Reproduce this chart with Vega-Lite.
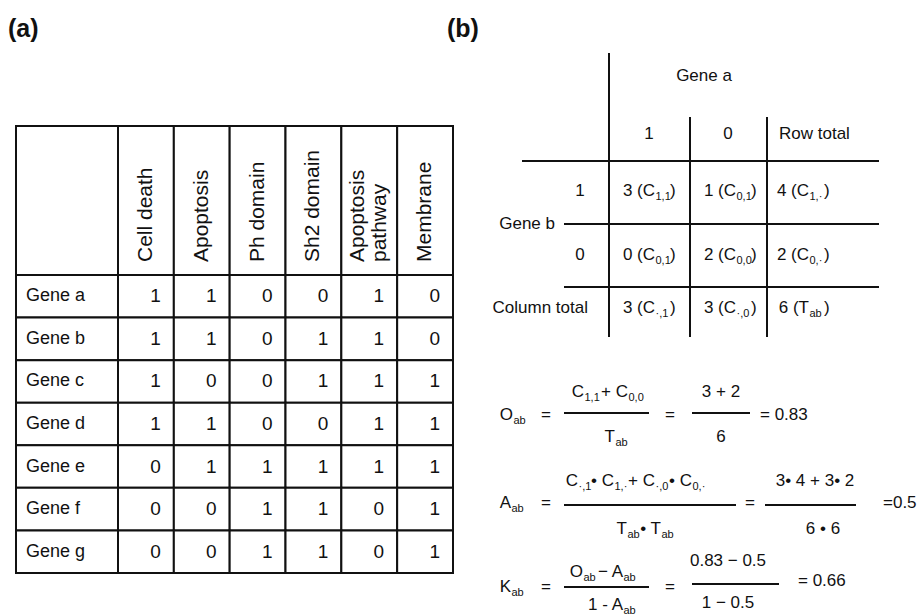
{
  "$schema": "https://vega.github.io/schema/vega-lite/v6.json",
  "width": 920,
  "height": 615,
  "autosize": {"type": "fit", "contains": "padding"},
  "padding": 0,
  "background": "white",
  "config": {
    "view": {"stroke": null},
    "text": {"font": "Liberation Sans, Arial", "color": "#111"}
  },
  "datasets": {
    "matrix": [
      {"gene": "Gene a", "term": "Cell death", "value": 1},
      {"gene": "Gene a", "term": "Apoptosis", "value": 1},
      {"gene": "Gene a", "term": "Ph domain", "value": 0},
      {"gene": "Gene a", "term": "Sh2 domain", "value": 0},
      {"gene": "Gene a", "term": "Apoptosis pathway", "value": 1},
      {"gene": "Gene a", "term": "Membrane", "value": 0},
      {"gene": "Gene b", "term": "Cell death", "value": 1},
      {"gene": "Gene b", "term": "Apoptosis", "value": 1},
      {"gene": "Gene b", "term": "Ph domain", "value": 0},
      {"gene": "Gene b", "term": "Sh2 domain", "value": 1},
      {"gene": "Gene b", "term": "Apoptosis pathway", "value": 1},
      {"gene": "Gene b", "term": "Membrane", "value": 0},
      {"gene": "Gene c", "term": "Cell death", "value": 1},
      {"gene": "Gene c", "term": "Apoptosis", "value": 0},
      {"gene": "Gene c", "term": "Ph domain", "value": 0},
      {"gene": "Gene c", "term": "Sh2 domain", "value": 1},
      {"gene": "Gene c", "term": "Apoptosis pathway", "value": 1},
      {"gene": "Gene c", "term": "Membrane", "value": 1},
      {"gene": "Gene d", "term": "Cell death", "value": 1},
      {"gene": "Gene d", "term": "Apoptosis", "value": 1},
      {"gene": "Gene d", "term": "Ph domain", "value": 0},
      {"gene": "Gene d", "term": "Sh2 domain", "value": 0},
      {"gene": "Gene d", "term": "Apoptosis pathway", "value": 1},
      {"gene": "Gene d", "term": "Membrane", "value": 1},
      {"gene": "Gene e", "term": "Cell death", "value": 0},
      {"gene": "Gene e", "term": "Apoptosis", "value": 1},
      {"gene": "Gene e", "term": "Ph domain", "value": 1},
      {"gene": "Gene e", "term": "Sh2 domain", "value": 1},
      {"gene": "Gene e", "term": "Apoptosis pathway", "value": 1},
      {"gene": "Gene e", "term": "Membrane", "value": 1},
      {"gene": "Gene f", "term": "Cell death", "value": 0},
      {"gene": "Gene f", "term": "Apoptosis", "value": 0},
      {"gene": "Gene f", "term": "Ph domain", "value": 1},
      {"gene": "Gene f", "term": "Sh2 domain", "value": 1},
      {"gene": "Gene f", "term": "Apoptosis pathway", "value": 0},
      {"gene": "Gene f", "term": "Membrane", "value": 1},
      {"gene": "Gene g", "term": "Cell death", "value": 0},
      {"gene": "Gene g", "term": "Apoptosis", "value": 0},
      {"gene": "Gene g", "term": "Ph domain", "value": 1},
      {"gene": "Gene g", "term": "Sh2 domain", "value": 1},
      {"gene": "Gene g", "term": "Apoptosis pathway", "value": 0},
      {"gene": "Gene g", "term": "Membrane", "value": 1}
    ],
    "terms": [
      {"term": "Cell death", "label": "Cell death"},
      {"term": "Apoptosis", "label": "Apoptosis"},
      {"term": "Ph domain", "label": "Ph domain"},
      {"term": "Sh2 domain", "label": "Sh2 domain"},
      {"term": "Apoptosis pathway", "label": "Apoptosis\npathway"},
      {"term": "Membrane", "label": "Membrane"}
    ],
    "genes": [
      {"gene": "Gene a"}, {"gene": "Gene b"}, {"gene": "Gene c"}, {"gene": "Gene d"},
      {"gene": "Gene e"}, {"gene": "Gene f"}, {"gene": "Gene g"}
    ],
    "corner": [{"part": "corner"}],
    "gridLines": [
      {"col": 14, "col2": 14, "row": 1, "row2": 11},
      {"col": 26, "col2": 26, "row": 3, "row2": 11},
      {"col": 35, "col2": 35, "row": 3, "row2": 11},
      {"col": 5, "col2": 42, "row": 5, "row2": 5},
      {"col": 8, "col2": 42, "row": 7, "row2": 7},
      {"col": 8, "col2": 42, "row": 9, "row2": 9},
      {"col": 8, "col2": 21, "row": 13, "row2": 13},
      {"col": 27, "col2": 32, "row": 13, "row2": 13},
      {"col": 8, "col2": 31, "row": 18, "row2": 18},
      {"col": 34, "col2": 41, "row": 18, "row2": 18},
      {"col": 8, "col2": 21, "row": 24, "row2": 24},
      {"col": 27, "col2": 36, "row": 23, "row2": 23}
    ],
    "centerText": [
      {"col": 28, "row": 2, "text": "Gene a"},
      {"col": 21, "row": 4, "text": "1"},
      {"col": 30, "row": 4, "text": "0"},
      {"col": 10, "row": 6, "text": "1"},
      {"col": 10, "row": 8, "text": "0"},
      {"col": 6, "row": 14, "text": "="},
      {"col": 6, "row": 17, "text": "="},
      {"col": 6, "row": 24, "text": "="},
      {"col": 24, "row": 14, "text": "="},
      {"col": 32, "row": 17, "text": "="},
      {"col": 24, "row": 24, "text": "="},
      {"col": 29, "row": 12, "text": "3 + 2"},
      {"col": 29, "row": 15, "text": "6"},
      {"col": 39, "row": 16, "text": "3• 4 + 3• 2"},
      {"col": 40, "row": 19, "text": "6 • 6"},
      {"col": 30, "row": 20, "text": "0.83 − 0.5"},
      {"col": 30, "row": 25, "text": "1 − 0.5"}
    ],
    "leftText": [
      {"col": 36, "row": 4, "text": "Row total"},
      {"col": 33, "row": 14, "text": "= 0.83"},
      {"col": 43, "row": 17, "text": "=0.5"},
      {"col": 37, "row": 22, "text": "= 0.66"}
    ],
    "rightText": [
      {"col": 7, "row": 7, "text": "Gene b"},
      {"col": 13, "row": 10, "text": "Column total"}
    ],
    "subscripted": [
      {"col": 22, "row": 6, "pre": "3 (C", "sub": "1,1", "post": ")"},
      {"col": 31, "row": 6, "pre": "1 (C", "sub": "0,1", "post": ")"},
      {"col": 38, "row": 6, "pre": "4 (C", "sub": "1,·", "post": ")"},
      {"col": 22, "row": 8, "pre": "0 (C", "sub": "0,1", "post": ")"},
      {"col": 31, "row": 8, "pre": "2 (C", "sub": "0,0", "post": ")"},
      {"col": 38, "row": 8, "pre": "2 (C", "sub": "0,·", "post": ")"},
      {"col": 22, "row": 10, "pre": "3 (C", "sub": "·,1", "post": ")"},
      {"col": 31, "row": 10, "pre": "3 (C", "sub": "·,0", "post": ")"},
      {"col": 38, "row": 10, "pre": "6 (T", "sub": "ab", "post": ")"},
      {"col": 4, "row": 14, "pre": "O", "sub": "ab", "post": ""},
      {"col": 11, "row": 12, "pre": "C", "sub": "1,1", "post": ""},
      {"col": 18, "row": 12, "pre": "+ C", "sub": "0,0", "post": ""},
      {"col": 16, "row": 15, "pre": "T", "sub": "ab", "post": ""},
      {"col": 2, "row": 17, "pre": "A", "sub": "ab", "post": ""},
      {"col": 9, "row": 16, "pre": "C", "sub": "·,1", "post": ""},
      {"col": 15, "row": 16, "pre": "• C", "sub": "1,·", "post": ""},
      {"col": 20, "row": 16, "pre": "+ C", "sub": "·,0", "post": ""},
      {"col": 25, "row": 16, "pre": "• C", "sub": "0,·", "post": ""},
      {"col": 19, "row": 19, "pre": "T", "sub": "ab", "post": ""},
      {"col": 23, "row": 19, "pre": "• T", "sub": "ab", "post": ""},
      {"col": 3, "row": 24, "pre": "K", "sub": "ab", "post": ""},
      {"col": 12, "row": 21, "pre": "O", "sub": "ab", "post": ""},
      {"col": 17, "row": 21, "pre": "− A", "sub": "ab", "post": ""},
      {"col": 17, "row": 26, "pre": "1 - A", "sub": "ab", "post": ""}
    ],
    "panelLabels": [
      {"col": 0, "row": 0, "text": "(a)"},
      {"col": 1, "row": 0, "text": "(b)"}
    ]
  },
  "resolve": {"scale": {"x": "independent", "y": "independent"}},
  "layer": [
    {
      "data": {"name": "matrix"},
      "encoding": {
        "x": {"field": "term", "type": "nominal", "axis": null, "sort": null,
              "scale": {"domain": ["Cell death", "Apoptosis", "Ph domain", "Sh2 domain", "Apoptosis pathway", "Membrane"], "range": [118, 453], "paddingInner": 0, "paddingOuter": 0}},
        "y": {"field": "gene", "type": "nominal", "axis": null, "sort": null,
              "scale": {"domain": ["Gene a", "Gene b", "Gene c", "Gene d", "Gene e", "Gene f", "Gene g"], "range": [275, 573], "paddingInner": 0, "paddingOuter": 0}}
      },
      "layer": [
        {"mark": {"type": "rect", "fill": "white", "stroke": "#111", "strokeWidth": 2}},
        {
          "mark": {"type": "text", "align": "right", "baseline": "middle", "dx": -13, "fontSize": 19, "color": "#111"},
          "encoding": {
            "x": {"field": "term", "type": "nominal", "axis": null, "sort": null, "bandPosition": 1,
                  "scale": {"domain": ["Cell death", "Apoptosis", "Ph domain", "Sh2 domain", "Apoptosis pathway", "Membrane"], "range": [118, 453], "paddingInner": 0, "paddingOuter": 0}},
            "text": {"field": "value", "type": "nominal"}
          }
        }
      ]
    },
    {
      "data": {"name": "terms"},
      "encoding": {
        "x": {"field": "term", "type": "nominal", "axis": null, "sort": null,
              "scale": {"domain": ["Cell death", "Apoptosis", "Ph domain", "Sh2 domain", "Apoptosis pathway", "Membrane"], "range": [118, 453], "paddingInner": 0, "paddingOuter": 0}},
        "y": {"datum": "header", "type": "nominal", "axis": null,
              "scale": {"domain": ["header"], "range": [126, 275], "paddingInner": 0, "paddingOuter": 0}}
      },
      "layer": [
        {"mark": {"type": "rect", "fill": "white", "stroke": "#111", "strokeWidth": 2}},
        {
          "transform": [{"filter": "datum.term != 'Apoptosis pathway'"}],
          "mark": {"type": "text", "angle": 270, "align": "left", "baseline": "middle", "fontSize": 21, "color": "#111"},
          "encoding": {
            "y": {"datum": "header", "type": "nominal", "axis": null, "bandPosition": 0.913,
                  "scale": {"domain": ["header"], "range": [126, 275], "paddingInner": 0, "paddingOuter": 0}},
            "text": {"field": "label", "type": "nominal"}
          }
        },
        {
          "transform": [{"filter": "datum.term == 'Apoptosis pathway'"}],
          "mark": {"type": "text", "angle": 270, "align": "left", "baseline": "middle", "fontSize": 21, "lineBreak": "\n", "lineHeight": 22, "dy": -11, "color": "#111"},
          "encoding": {
            "y": {"datum": "header", "type": "nominal", "axis": null, "bandPosition": 0.913,
                  "scale": {"domain": ["header"], "range": [126, 275], "paddingInner": 0, "paddingOuter": 0}},
            "text": {"field": "label", "type": "nominal"}
          }
        }
      ]
    },
    {
      "data": {"name": "genes"},
      "encoding": {
        "x": {"datum": "label", "type": "nominal", "axis": null,
              "scale": {"domain": ["label"], "range": [16, 118], "paddingInner": 0, "paddingOuter": 0}},
        "y": {"field": "gene", "type": "nominal", "axis": null, "sort": null,
              "scale": {"domain": ["Gene a", "Gene b", "Gene c", "Gene d", "Gene e", "Gene f", "Gene g"], "range": [275, 573], "paddingInner": 0, "paddingOuter": 0}}
      },
      "layer": [
        {"mark": {"type": "rect", "fill": "white", "stroke": "#111", "strokeWidth": 2}},
        {
          "mark": {"type": "text", "align": "left", "baseline": "middle", "dx": 10, "fontSize": 18, "color": "#111"},
          "encoding": {
            "x": {"datum": "label", "type": "nominal", "axis": null, "bandPosition": 0,
                  "scale": {"domain": ["label"], "range": [16, 118], "paddingInner": 0, "paddingOuter": 0}},
            "text": {"field": "gene", "type": "nominal"}
          }
        }
      ]
    },
    {
      "data": {"name": "corner"},
      "mark": {"type": "rect", "fill": "white", "stroke": "#111", "strokeWidth": 2},
      "encoding": {
        "x": {"datum": "label", "type": "nominal", "axis": null,
              "scale": {"domain": ["label"], "range": [16, 118], "paddingInner": 0, "paddingOuter": 0}},
        "y": {"datum": "header", "type": "nominal", "axis": null,
              "scale": {"domain": ["header"], "range": [126, 275], "paddingInner": 0, "paddingOuter": 0}}
      }
    },
    {
      "encoding": {
        "x": {"field": "col", "type": "quantitative", "axis": null,
              "scale": {"domain": [0,1,2,3,4,5,6,7,8,9,10,11,12,13,14,15,16,17,18,19,20,21,22,23,24,25,26,27,28,29,30,31,32,33,34,35,36,37,38,39,40,41,42,43],
                        "range": [8,447,511,511,513,522,546,555,564,578,580,584,583,588,609,614,615,623,628,627,655,649,655,661,670,692,690,692,704,721,728,736,750,760,765,767,779,798,809,815,823,856,879,883],
                        "nice": false, "zero": false}},
        "y": {"field": "row", "type": "quantitative", "axis": null,
              "scale": {"domain": [0,1,2,3,4,5,6,7,8,9,10,11,12,13,14,15,16,17,18,19,20,21,22,23,24,25,26],
                        "range": [29,53,76,117,134,161,191,224,255,287,308,337,392,413,415,437,481,503,505,529,561,572,581,584,587,603,605],
                        "nice": false, "zero": false}}
      },
      "layer": [
        {
          "data": {"name": "gridLines"},
          "mark": {"type": "rule", "stroke": "#111", "strokeWidth": 2},
          "encoding": {"x2": {"field": "col2"}, "y2": {"field": "row2"}}
        },
        {
          "data": {"name": "centerText"},
          "mark": {"type": "text", "align": "center", "baseline": "middle", "fontSize": 17, "color": "#111"},
          "encoding": {"text": {"field": "text", "type": "nominal"}}
        },
        {
          "data": {"name": "leftText"},
          "mark": {"type": "text", "align": "left", "baseline": "middle", "fontSize": 17, "color": "#111"},
          "encoding": {"text": {"field": "text", "type": "nominal"}}
        },
        {
          "data": {"name": "rightText"},
          "mark": {"type": "text", "align": "right", "baseline": "middle", "fontSize": 17, "color": "#111"},
          "encoding": {"text": {"field": "text", "type": "nominal"}}
        },
        {
          "data": {"name": "subscripted"},
          "mark": {"type": "text", "align": "right", "baseline": "middle", "fontSize": 17, "color": "#111"},
          "encoding": {"text": {"field": "pre", "type": "nominal"}}
        },
        {
          "data": {"name": "subscripted"},
          "mark": {"type": "text", "align": "left", "baseline": "middle", "dx": 0.5, "dy": 6, "fontSize": 11, "color": "#111"},
          "encoding": {"text": {"field": "sub", "type": "nominal"}}
        },
        {
          "data": {"name": "subscripted"},
          "transform": [{"filter": "datum.post != ''"}],
          "mark": {"type": "text", "align": "left", "baseline": "middle", "dx": 15, "fontSize": 17, "color": "#111"},
          "encoding": {"text": {"field": "post", "type": "nominal"}}
        },
        {
          "data": {"name": "panelLabels"},
          "mark": {"type": "text", "align": "left", "baseline": "middle", "fontSize": 25, "fontWeight": "bold", "color": "#111"},
          "encoding": {"text": {"field": "text", "type": "nominal"}}
        }
      ]
    }
  ]
}
